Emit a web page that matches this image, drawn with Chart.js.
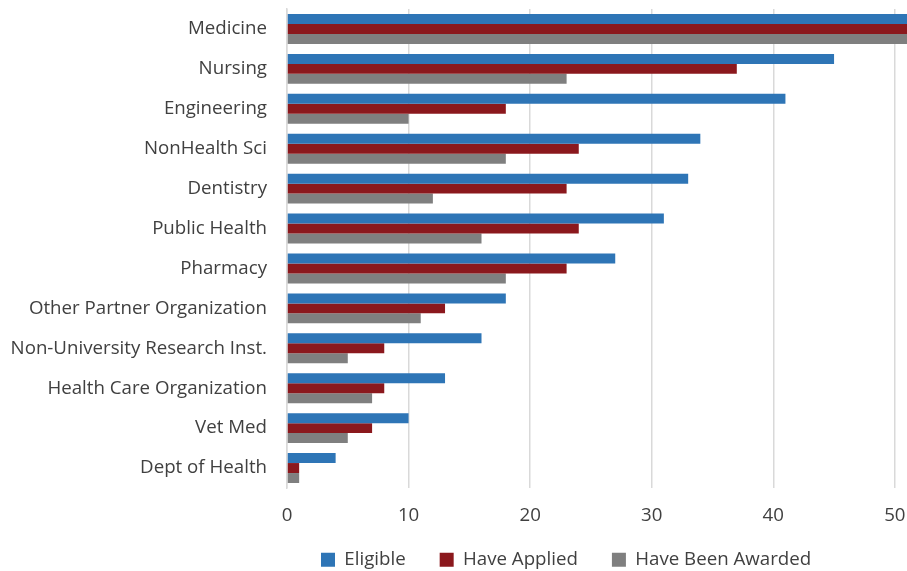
<!DOCTYPE html>
<html>
<head>
<meta charset="utf-8">
<script src="https://cdn.jsdelivr.net/npm/chart.js@4"></script>
<style>
  html, body { margin: 0; padding: 0; background: #fff; }
  #wrap { width: 907px; height: 571px; position: relative; }
</style>
</head>
<body>
<div id="wrap"><canvas id="myChart"></canvas></div>
<script>
const categories = [
    'Medicine',
    'Nursing',
    'Engineering',
    'NonHealth Sci',
    'Dentistry',
    'Public Health',
    'Pharmacy',
    'Other Partner Organization',
    'Non-University Research Inst.',
    'Health Care Organization',
    'Vet Med',
    'Dept of Health'
];

// Medicine runs off the right edge of the axis
const eligible = [62, 45, 41, 34, 33, 31, 27, 18, 16, 13, 10, 4];
const haveApplied = [57, 37, 18, 24, 23, 24, 23, 13, 8, 8, 7, 1];
const haveBeenAwarded = [53, 23, 10, 18, 12, 16, 18, 11, 5, 7, 5, 1];

const xTicks = [0, 10, 20, 30, 40, 50];

const textColor = '#404040';
const gridColor = '#d9d9d9';
const font = { family: 'Open Sans', size: 18.7 };

// wide horizontal gaps between legend items, but keep the row
// tucked close under the axis labels
const legendSpacing = {
    id: 'legendSpacing',
    beforeInit(chart) {
        const fit = chart.legend.fit;
        chart.legend.fit = function () {
            fit.call(this);
            this.height = 44.5;
        };
    },
    afterLayout(chart) {
        chart.legend.top -= 10;
        chart.legend.height += 10;
    }
};

const data = {
    labels: categories,
    datasets: [{
        label: 'Eligible',
        data: eligible,
        backgroundColor: '#2e75b6'
    }, {
        label: 'Have Applied',
        data: haveApplied,
        backgroundColor: '#8b181d'
    }, {
        label: 'Have Been Awarded',
        data: haveBeenAwarded,
        backgroundColor: '#7f7f7f'
    }]
};

const config = {
    type: 'bar',
    data: data,
    plugins: [legendSpacing],
    options: {
        indexAxis: 'y',
        responsive: true,
        maintainAspectRatio: false,
        animation: false,
        layout: { padding: { top: 9, right: 0, left: 0, bottom: 0 } },
        datasets: {
            bar: { categoryPercentage: 0.75, barPercentage: 1.0 }
        },
        scales: {
            x: {
                min: 0,
                max: 51,
                grid: { color: gridColor, lineWidth: 1.5, drawTicks: false },
                border: { display: false },
                afterBuildTicks: axis => {
                    axis.ticks = xTicks.map(v => ({ value: v }));
                },
                afterFit: scale => {
                    scale.height = 38.5;
                    scale.paddingLeft = 0;
                    scale.paddingRight = 0;
                },
                ticks: { color: textColor, font: font, padding: 16 }
            },
            y: {
                grid: { display: false, drawTicks: false },
                border: { display: true, color: gridColor, width: 1.5 },
                afterFit: scale => {
                    scale.width = 287;
                    scale.paddingTop = 0;
                    scale.paddingBottom = 0;
                },
                ticks: { color: textColor, font: font, padding: 20 }
            }
        },
        plugins: {
            tooltip: { enabled: false },
            legend: {
                position: 'bottom',
                fullSize: false,
                align: 'start',
                labels: {
                    color: textColor,
                    font: font,
                    boxWidth: 14,
                    boxHeight: 14,
                    padding: 34
                }
            }
        }
    }
};

const myChart = new Chart(
    document.getElementById('myChart'),
    config
);
</script>
</body>
</html>
